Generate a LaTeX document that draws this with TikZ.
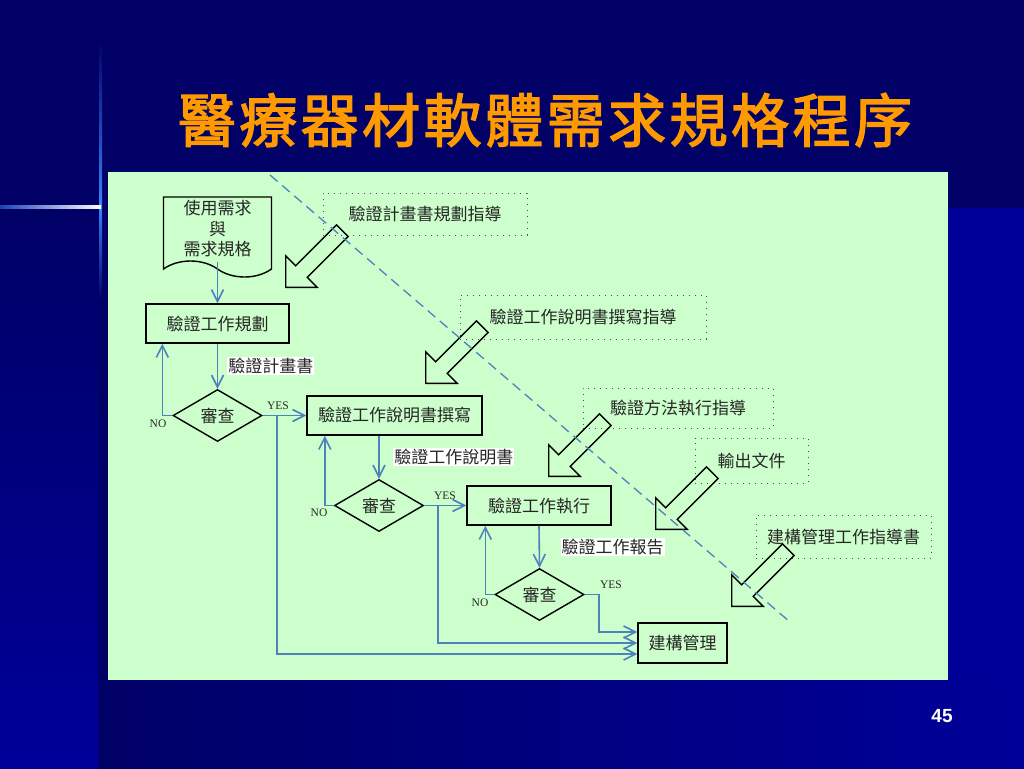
\documentclass[tikz,border=0pt]{standalone}
\usepackage{fontspec}
\setmainfont{Liberation Serif}
\newfontfamily\cjk{Noto Sans CJK TC}
\newfontfamily\titlefont{Noto Sans CJK TC}[FakeBold=2.5,LetterSpace=6]
\newfontfamily\numfont{Liberation Sans}
\usetikzlibrary{positioning,shapes.geometric,shapes.symbols,shapes.arrows,arrows.meta}
\definecolor{navy}{RGB}{0,0,102}
\definecolor{bright}{RGB}{0,0,153}
\definecolor{glow}{RGB}{60,130,255}
\definecolor{panel}{RGB}{204,255,204}
\definecolor{lineblue}{RGB}{79,129,189}
\definecolor{titleorange}{RGB}{255,153,0}
\tikzset{
	cjktext/.style={font=\cjk\fontsize{17}{20.5}\selectfont},
	work/.style={draw, line width=1.4pt, minimum height=39pt, inner sep=0pt, cjktext},
	check/.style={diamond, draw, line width=1.4pt, minimum width=89pt, minimum height=52pt, inner sep=0pt, cjktext},
	docshape/.style={tape, draw, line width=1.4pt, tape bend top=none, tape bend bottom=out and in, tape bend height=16pt, minimum width=108pt, minimum height=80pt, inner sep=0pt, align=center, cjktext},
	guide/.style={draw=black!70, line width=1pt, dash pattern=on 1pt off 5pt, inner sep=0pt, cjktext},
	memo/.style={fill=white, inner sep=1pt, cjktext},
	yn/.style={font=\fontsize{11.5}{12}\selectfont, inner sep=0pt},
	flow/.style={draw=lineblue, line width=1.6pt, -{Straight Barb[length=12pt,width=12pt]}},
	cut/.style={draw=lineblue, line width=1.3pt, dash pattern=on 10pt off 6pt},
	hint/.style={single arrow, draw, line width=1.4pt, rotate=225, minimum height=80pt, inner xsep=0pt, inner ysep=7.5pt, single arrow head extend=14pt, anchor=tip}
}
\begin{document}
\begin{tikzpicture}[x=1pt,y=-1pt,every node/.style={text=black!85}]
	\useasboundingbox (0,0) rectangle (1024,768);
	% background of the slide
	\fill[navy] (0,0) rectangle (1024,768);
	\fill[bright] (948,208) rectangle (1024,768);
	\shade[top color=navy, bottom color=bright] (0,210) rectangle (98,768);
	\shade[left color=navy, right color=bright] (98,680) rectangle (1024,768);
	\shade[top color=navy, bottom color=glow] (99,40) rectangle (102,207);
	\shade[top color=glow, bottom color=navy] (99,207) rectangle (102,300);
	\shade[left color=glow!50!navy, right color=white] (0,205.5) rectangle (101,208.5);
	\fill[panel] (108,172) rectangle (948,680);
	
	\node[font=\titlefont\fontsize{58}{60}\selectfont, text=titleorange] (title) at (545,120) {醫療器材軟體需求規格程序};
	\node[font=\numfont\bfseries\fontsize{19}{20}\selectfont, text=white] (pageno) at (942,716) {45};
	
	% main flow
	\node[docshape] (req) at (217.5,229) {使用需求\\與\\需求規格};
	\node[work, minimum width=143pt] (plan) at (217.5,323.5) {驗證工作規劃};
	\node[check] (rev1) at (217.5,415.5) {審查};
	\node[work, minimum width=175pt] (spec) at (394.5,415.5) {驗證工作說明書撰寫};
	\node[check] (rev2) at (379,505.5) {審查};
	\node[work, minimum width=144pt] (exec) at (539,505.5) {驗證工作執行};
	\node[check] (rev3) at (539.5,594.5) {審查};
	\node[work, minimum width=89pt, minimum height=40pt] (build) at (682.5,643) {建構管理};
	
	% guidance
	\node[guide, minimum width=204pt, minimum height=42pt] (g1) at (425,214) {驗證計畫書規劃指導};
	\node[guide, minimum width=246pt, minimum height=44pt] (g2) at (583,317) {驗證工作說明書撰寫指導};
	\node[guide, minimum width=190pt, minimum height=40pt] (g3) at (678,408) {驗證方法執行指導};
	\node[guide, minimum width=113pt, minimum height=45pt] (g4) at (751.5,460.5) {輸出文件};
	\node[guide, minimum width=175pt, minimum height=43pt] (g5) at (843.5,536.5) {建構管理工作指導書};
	
	\node[hint] (h1) at (285,288) {};
	\node[hint] (h2) at (425,384) {};
	\node[hint] (h3) at (548,477) {};
	\node[hint] (h4) at (655,530) {};
	\node[hint] (h5) at (731,607) {};
	
	\coordinate (cuttop) at (270,175);
	\coordinate (cutbottom) at (790,622);
	\draw[cut] (cuttop) -- (cutbottom);
	
	% connectors
	\draw[flow] (req.south) -- (plan.north);
	\draw[flow] (plan.south) -- (rev1.north) node[memo, midway, right=9pt] (memo1) {驗證計畫書};
	\draw[flow] (rev1.west) -- ++(-10,0) coordinate (no1) -- (no1 |- plan.south);
	\draw[flow] (rev1.east) -- (spec.west);
	\draw[flow] (rev1.east) ++(14,0) |- ([yshift=-11pt]build.west);
	
	\draw[flow] (rev2.north |- spec.south) -- (rev2.north) node[memo, midway, right=13.5pt] (memo2) {驗證工作說明書};
	\draw[flow] (rev2.west) -- ++(-9,0) coordinate (no2) -- (no2 |- spec.south);
	\draw[flow] (rev2.east) -- (exec.west);
	\draw[flow] (rev2.east) ++(14,0) |- (build.west);
	
	\draw[flow] (exec.south) -- (rev3.north) node[memo, midway, right=20.5pt] (memo3) {驗證工作報告};
	\draw[flow] (rev3.west) -- ++(-9,0) coordinate (no3) -- (no3 |- exec.south);
	\draw[flow] (rev3.east) -- ++(14,0) |- ([yshift=11pt]build.west);
	
	\node[yn] (yes1) at (278,406) {YES};
	\node[yn] (no1lbl) at (158,424) {NO};
	\node[yn] (yes2) at (445,496) {YES};
	\node[yn] (no2lbl) at (319,513) {NO};
	\node[yn] (yes3) at (611,585) {YES};
	\node[yn] (no3lbl) at (480,603) {NO};
\end{tikzpicture}
\end{document}
